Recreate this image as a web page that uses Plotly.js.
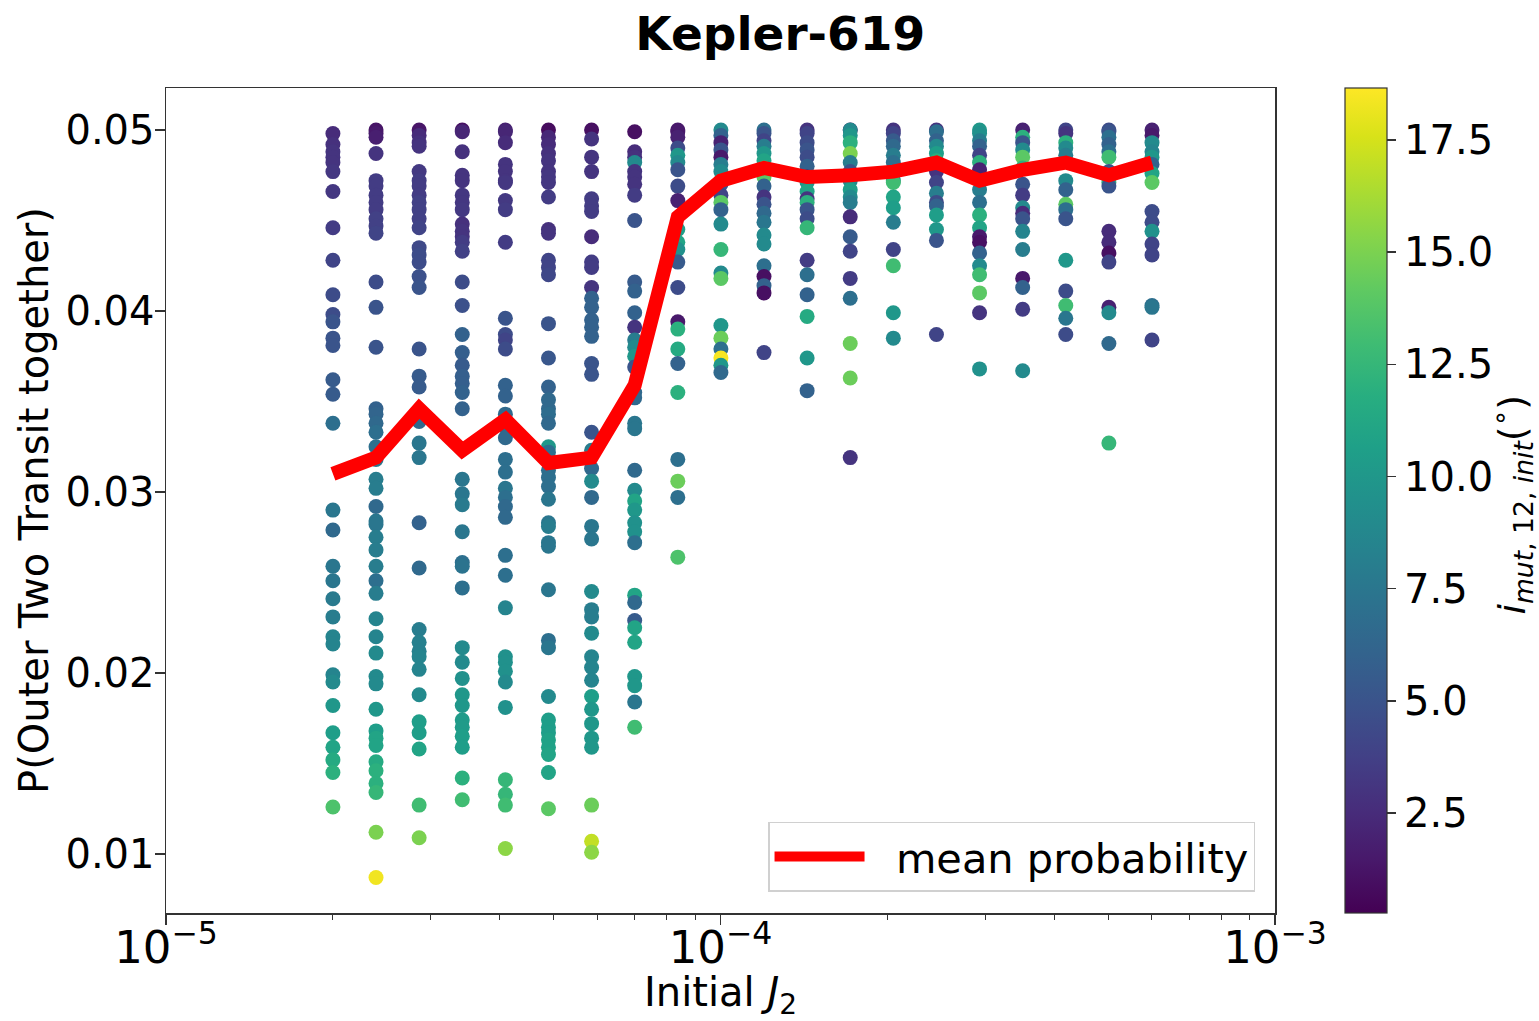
<!DOCTYPE html>
<html><head><meta charset="utf-8">
<script src="https://cdn.plot.ly/plotly-3.0.1.min.js"></script>
<style>html,body{margin:0;padding:0;background:#fff}#chart{width:1539px;height:1021px}</style>
</head><body><div id="chart"></div>
<script>
// Initial J2 grid values (one column of runs per value)
const J2 = [2.000e-5, 2.392e-5, 2.861e-5, 3.422e-5, 4.093e-5, 4.895e-5, 5.855e-5, 7.002e-5, 8.375e-5, 1.0017e-4,
            1.1980e-4, 1.4329e-4, 1.7138e-4, 2.0498e-4, 2.4516e-4, 2.9322e-4, 3.5071e-4, 4.1946e-4, 5.0169e-4, 6.0004e-4];

// P(outer two transit together) per run, and initial mutual inclination (deg)
const p01 = [0.0498,0.0492,0.0488,0.0485,0.0482,0.0477,0.0466,0.0446,0.0428,0.0409,0.0398,0.0394,0.0385,0.0381,0.0362,0.0354,0.0338,0.0290,0.0279,0.0259,0.0251,0.0241,0.0231,0.0220,0.0216,0.0199,0.0195,0.0182,0.0167,0.0159,0.0152,0.0145,0.0126];
const i01 = [2.5,2.8,3,3,3,3.2,3.2,3.5,4,4.5,4.5,5,5,5,5.5,5.5,7,7.5,6.5,7.5,7.5,7.8,8,8.5,8.5,8.5,9,10,10.5,11,11.5,12,13.5];
const p02 = [0.0500,0.0498,0.0496,0.0487,0.0472,0.0469,0.0464,0.0460,0.0456,0.0451,0.0447,0.0443,0.0416,0.0402,0.0380,0.0346,0.0343,0.0338,0.0333,0.0325,0.0318,0.0307,0.0302,0.0292,0.0284,0.0282,0.0275,0.0268,0.0259,0.0251,0.0244,0.0230,0.0220,0.0211,0.0198,0.0194,0.0180,0.0168,0.0164,0.0160,0.0151,0.0146,0.0139,0.0134,0.0112,0.0087];
const i02 = [1.2,1.5,1.8,3,3.5,3.5,3.5,3.5,3.5,3.8,3.8,4,4.5,5,5,6,6.2,6.5,7,7,7.5,8,8,6.5,7.5,7.5,8,8,8,7,8,8.5,8.5,9,9,9,10,10.5,11,11,11.5,12,12,12.5,15,18.3];
const p03 = [0.0500,0.0497,0.0493,0.0491,0.0477,0.0472,0.0469,0.0464,0.0460,0.0456,0.0451,0.0446,0.0435,0.0431,0.0427,0.0419,0.0413,0.0379,0.0364,0.0358,0.0339,0.0327,0.0319,0.0283,0.0258,0.0224,0.0217,0.0212,0.0209,0.0202,0.0188,0.0173,0.0167,0.0158,0.0127,0.0109];
const i03 = [1.3,2.5,2.8,3,3.3,3.5,3.5,3.5,3.8,3.8,3.8,4,4.3,4.5,4.5,4.8,5,5,5.5,5.5,6.5,7.5,7.5,6,6.5,8,8.2,8.2,8.5,8.5,9,10.5,10.5,11,13,15];
const p04 = [0.0500,0.0499,0.0488,0.0475,0.0472,0.0464,0.0460,0.0456,0.0448,0.0444,0.0441,0.0438,0.0433,0.0416,0.0403,0.0387,0.0377,0.0370,0.0364,0.0360,0.0355,0.0346,0.0307,0.0299,0.0293,0.0278,0.0261,0.0259,0.0247,0.0214,0.0206,0.0197,0.0188,0.0182,0.0174,0.0170,0.0165,0.0159,0.0142,0.0130];
const i04 = [1.0,2.2,2.8,3,3,3.2,3.2,3.3,2.8,3,3,3.5,3.8,4.5,4.8,6,5.8,5.5,5.8,5.8,6,6,7.5,7.5,7.8,7.5,7,7.3,7,9,9,9.5,10,10,10.3,10.3,10.5,10.5,12,13];
const p05 = [0.0500,0.0499,0.0493,0.0481,0.0477,0.0472,0.0471,0.0461,0.0456,0.0438,0.0396,0.0387,0.0384,0.0379,0.0359,0.0353,0.0343,0.0336,0.0330,0.0318,0.0311,0.0302,0.0297,0.0292,0.0286,0.0265,0.0254,0.0236,0.0209,0.0206,0.0201,0.0195,0.0181,0.0141,0.0133,0.0127,0.0103];
const i05 = [2,2.2,2.5,3,3,3,3.2,3.3,3.5,3.5,5,4.5,4,4.5,6,6,6.5,6.5,6.5,7,7,7.5,7,6.5,6.5,7,7,8.5,9.5,9.5,9.5,9,9.5,12.5,12.5,13,15.5];
const p06 = [0.0500,0.0496,0.0492,0.0487,0.0483,0.0477,0.0474,0.0471,0.0463,0.0445,0.0443,0.0428,0.0424,0.0420,0.0393,0.0374,0.0358,0.0351,0.0346,0.0343,0.0338,0.0325,0.0322,0.0312,0.0308,0.0303,0.0296,0.0283,0.0281,0.0272,0.0270,0.0246,0.0218,0.0214,0.0187,0.0174,0.0170,0.0167,0.0163,0.0159,0.0155,0.0145,0.0125];
const i06 = [0.8,2.3,2.5,2.8,3,3,3.2,3.2,3.5,2.8,3,4,4,4.2,5,5.2,6,6.5,6.5,6.8,6.5,10,7,7,7,7,7.5,7.5,8,7.5,7.5,7.5,7,7.5,9,10.5,10.5,10.5,10.8,10.8,11,11,14];
const p07 = [0.0500,0.0495,0.0485,0.0477,0.0462,0.0458,0.0455,0.0441,0.0427,0.0424,0.0413,0.0407,0.0402,0.0395,0.0391,0.0386,0.0371,0.0365,0.0333,0.0323,0.0313,0.0306,0.0297,0.0281,0.0274,0.0245,0.0235,0.0231,0.0222,0.0209,0.0203,0.0196,0.0187,0.0180,0.0172,0.0164,0.0159,0.0127,0.0107,0.0101];
const i07 = [1,3,3,3,3.5,3.5,3.5,2.5,3.5,3.5,3,6,6,6,6,6,5,5,5,8,6.5,9,6.5,7.5,7.5,9,8,8,9,8.5,8.5,8.5,10.5,10,10,10,10,14.5,17,15.5];
const p08 = [0.0499,0.0488,0.0485,0.0482,0.0477,0.0474,0.0470,0.0464,0.0450,0.0416,0.0411,0.0399,0.0391,0.0384,0.0380,0.0375,0.0369,0.0355,0.0352,0.0338,0.0335,0.0312,0.0301,0.0295,0.0290,0.0283,0.0278,0.0272,0.0243,0.0239,0.0229,0.0225,0.0217,0.0198,0.0193,0.0184,0.0170];
const i08 = [1,2.5,2.8,9,3,3,3,3.5,5,5.5,6,6,3,8,9,10,5,6.5,6.5,7.5,7.5,6.5,9,11,10,9.5,9.5,7,11,6.5,5.5,11,11,10,10,7.5,13];
const p09 = [0.0500,0.0499,0.0496,0.0490,0.0486,0.0482,0.0478,0.0469,0.0461,0.0445,0.0438,0.0434,0.0427,0.0413,0.0394,0.0390,0.0379,0.0371,0.0355,0.0318,0.0306,0.0297,0.0264];
const i09 = [1.5,1.5,2,4.5,10,9,5,4.5,2,10.5,11,9.5,5.5,4.5,1.5,12,11.5,6,12,7,14.5,7,13.5];
const p10 = [0.0500,0.0497,0.0493,0.0489,0.0485,0.0481,0.0477,0.0472,0.0470,0.0464,0.0460,0.0456,0.0448,0.0434,0.0421,0.0418,0.0392,0.0385,0.0379,0.0374,0.0370,0.0366];
const i10 = [9,6,2,5,1.5,8,9,11,5,4,14,6,9,12.5,9,14,10,14.5,7,18.5,10,6.5];
const p11 = [0.0500,0.0498,0.0494,0.0491,0.0487,0.0483,0.0479,0.0474,0.0469,0.0463,0.0459,0.0454,0.0449,0.0442,0.0437,0.0425,0.0419,0.0414,0.0410,0.0377];
const i11 = [7,5,4,8,10,11,13.5,14,6,3,5,6.5,7.5,9,9,7,1,6,1,4];
const p12 = [0.0500,0.0498,0.0493,0.0489,0.0485,0.0480,0.0474,0.0471,0.0466,0.0462,0.0460,0.0456,0.0451,0.0446,0.0428,0.0420,0.0409,0.0397,0.0374,0.0356];
const i12 = [3,4,4.5,5,4.5,6,1.5,10,11,3,12,5,4.5,12.5,3.5,7,6,11.5,10,6];
const p13 = [0.0500,0.0500,0.0497,0.0493,0.0487,0.0482,0.0477,0.0472,0.0467,0.0463,0.0460,0.0452,0.0441,0.0433,0.0418,0.0407,0.0382,0.0363,0.0319];
const i13 = [1,9,10,12,15,8,5,9,10.5,9,8,2.5,5.5,4,3.5,7,14.5,14.5,3];
const p14 = [0.0500,0.0498,0.0494,0.0491,0.0486,0.0482,0.0472,0.0471,0.0463,0.0457,0.0449,0.0434,0.0425,0.0399,0.0385];
const i14 = [3,4,5.5,6.5,8,7,9,13,11,10.5,8,4,13,10,9];
const p15 = [0.0500,0.0499,0.0494,0.0491,0.0487,0.0483,0.0477,0.0471,0.0465,0.0460,0.0458,0.0453,0.0445,0.0439,0.0387];
const i15 = [3,7,6,9,10.5,12,3,4,8,4.5,6,10.5,10,5,4];
const p16 = [0.0500,0.0498,0.0494,0.0491,0.0486,0.0482,0.0478,0.0467,0.0460,0.0453,0.0446,0.0441,0.0438,0.0432,0.0425,0.0420,0.0410,0.0399,0.0368];
const i16 = [10,9.5,8,6,4,12,2,8,7,12,11,1.5,1,6,9,13,14,3,9.5];
const p17 = [0.0500,0.0496,0.0493,0.0489,0.0485,0.0479,0.0470,0.0464,0.0457,0.0454,0.0451,0.0444,0.0434,0.0418,0.0413,0.0401,0.0367];
const i17 = [2,12,5,9,14,12,5,3.5,9,2.5,5,8.5,8,1.5,6,3.5,9];
const p18 = [0.0500,0.0498,0.0493,0.0490,0.0486,0.0472,0.0467,0.0459,0.0456,0.0451,0.0428,0.0411,0.0403,0.0396,0.0387];
const i18 = [4,3,12,9,8,9,6,14,7,5,10,4.5,13,7.5,4.5];
const p19 = [0.0500,0.0499,0.0496,0.0492,0.0488,0.0485,0.0477,0.0474,0.0471,0.0469,0.0444,0.0438,0.0432,0.0427,0.0402,0.0399,0.0382,0.0327];
const i19 = [4.5,5,7,6,7,13,5,8,12,5,2.5,2.5,1,4,2,9,6.5,12.5];
const p20 = [0.0500,0.0497,0.0493,0.0488,0.0485,0.0481,0.0476,0.0471,0.0455,0.0449,0.0444,0.0437,0.0431,0.0403,0.0402,0.0384];
const i20 = [2,1.5,9,8.5,10,6,11,14,4.5,4.5,9.5,4,4,7,7.5,4];

// Mean probability per J2 value
const meanProb = [0.0310,0.0319,0.0346,0.0323,0.0340,0.0316,0.0319,0.0359,0.0452,0.0472,0.0479,0.0474,0.0475,0.0477,0.0482,0.0472,0.0478,0.0482,0.0475,0.0482];

const colorbarTicks = [2.5, 5.0, 7.5, 10.0, 12.5, 15.0, 17.5];
const yTicks = [0.01, 0.02, 0.03, 0.04, 0.05];

const probCols = [p01,p02,p03,p04,p05,p06,p07,p08,p09,p10,p11,p12,p13,p14,p15,p16,p17,p18,p19,p20];
const incCols  = [i01,i02,i03,i04,i05,i06,i07,i08,i09,i10,i11,i12,i13,i14,i15,i16,i17,i18,i19,i20];

const xs = [], ys = [], cs = [];
probCols.forEach((col, k) => {
  col.forEach((v, j) => { xs.push(J2[k]); ys.push(v); cs.push(incCols[k][j]); });
});

const FONT = 'DejaVu Sans, Verdana, sans-serif';
const AX = '#333';

const scatter = {
  type: 'scatter', mode: 'markers', x: xs, y: ys, showlegend: false, hoverinfo: 'x+y',
  marker: {
    size: 15, color: cs, colorscale: 'Viridis', cmin: 0.27, cmax: 18.66,
    line: {width: 0},
    colorbar: {
      x: 1.063, xanchor: 'left', xref: 'paper', y: 0.5, yanchor: 'middle', len: 1, lenmode: 'fraction',
      thickness: 42, thicknessmode: 'pixels', xpad: 0, ypad: 0,
      outlinewidth: 1.2, outlinecolor: AX,
      tickmode: 'array', tickvals: colorbarTicks, ticktext: colorbarTicks.map(v => v.toFixed(1)),
      ticks: 'outside', ticklen: 9, tickwidth: 1.5, tickcolor: AX,
      tickfont: {family: FONT, size: 40, color: '#000'}
    }
  }
};

const meanLine = {
  type: 'scatter', mode: 'lines', x: J2, y: meanProb, name: '\u00a0\u00a0mean probability',
  line: {color: '#ff0000', width: 14}, showlegend: true
};

const layout = {
  width: 1539, height: 1021,
  margin: {l: 166, r: 264, t: 88, b: 108, pad: 0, autoexpand: false},
  paper_bgcolor: '#fff', plot_bgcolor: '#fff',
  font: {family: FONT, size: 40, color: '#000'},
  title: {text: '<b>Kepler-619</b>', x: 0.507, xref: 'container', xanchor: 'center',
          y: 0.967, yref: 'container', yanchor: 'middle',
          font: {family: FONT, size: 47, color: '#000'}},
  xaxis: {
    type: 'log', range: [-5, -3], dtick: 1, exponentformat: 'power',
    showgrid: false, zeroline: false, automargin: false,
    showline: true, mirror: true, linecolor: AX, linewidth: 1.5,
    ticks: 'outside', ticklen: 10, tickwidth: 1.5, tickcolor: AX, ticklabelstandoff: -14,
    minor: {ticks: 'outside', ticklen: 5, tickwidth: 1, tickcolor: AX, dtick: 'D1', showgrid: false},
    tickfont: {family: FONT, size: 36, color: '#000'},
    title: {text: 'Initial <i>J</i><sub>2</sub>', standoff: 6, font: {family: FONT, size: 40, color: '#000'}}
  },
  yaxis: {
    range: [0.00674, 0.05232], tickmode: 'array', tickvals: yTicks, ticktext: yTicks.map(v => v.toFixed(2)),
    showgrid: false, zeroline: false, automargin: false,
    showline: true, mirror: true, linecolor: AX, linewidth: 1.5,
    ticks: 'outside', ticklen: 10, tickwidth: 1.5, tickcolor: AX, ticklabelstandoff: -8,
    tickfont: {family: FONT, size: 40, color: '#000'},
    title: {text: 'P(Outer Two Transit together)', standoff: 4, font: {family: FONT, size: 40, color: '#000'}}
  },
  legend: {
    x: 0.982, xanchor: 'right', y: 0.026, yanchor: 'bottom',
    bgcolor: 'rgba(255,255,255,0.85)', bordercolor: '#d0d0d0', borderwidth: 1.5,
    font: {family: FONT, size: 41.5, color: '#000'}, itemwidth: 90
  },
  annotations: [{
    text: '<i>i</i><sub><i>mut</i>, 12, <i>init</i></sub>(<sup>∘</sup>)',
    xref: 'paper', yref: 'paper', x: 1.2137, y: 0.495, xanchor: 'center', yanchor: 'middle',
    textangle: -90, showarrow: false, font: {family: FONT, size: 38, color: '#000'}
  }],
  showlegend: true
};

Plotly.newPlot('chart', [scatter, meanLine], layout, {displayModeBar: false, staticPlot: true});
</script>
</body></html>
